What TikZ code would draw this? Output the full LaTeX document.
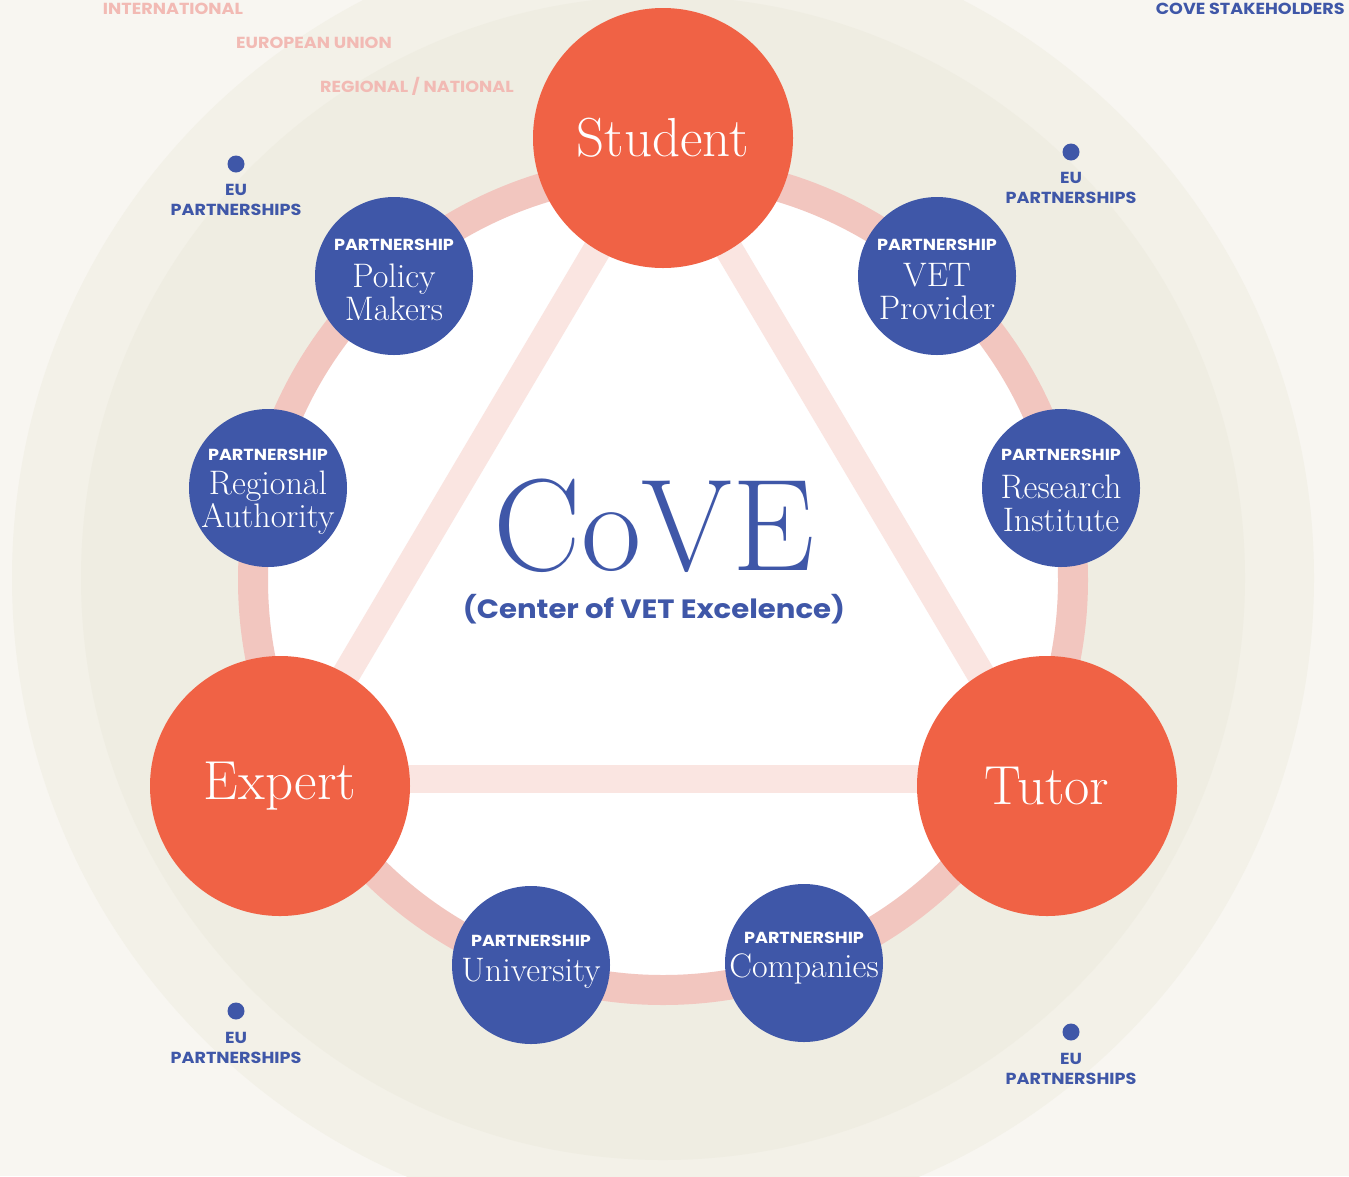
\documentclass[tikz,border=0pt]{standalone}
\usepackage{fontspec}
\newfontfamily\popfont{Poppins}[FakeStretch=1.1]
\definecolor{bgc}{HTML}{F8F6F1}
\definecolor{circA}{HTML}{F3F1E8}
\definecolor{circB}{HTML}{EFEDE2}
\definecolor{ringc}{HTML}{F2C6BF}
\definecolor{tric}{HTML}{FAE5E1}
\definecolor{orng}{HTML}{F06245}
\definecolor{blu}{HTML}{3F57A8}
\definecolor{pinktxt}{HTML}{F2BAB4}
\tikzset{
  rolecircle/.style={circle, fill=orng, inner sep=0pt, minimum size=260pt, text=white, font=\fontsize{55}{57}\selectfont},
  partcircle/.style={circle, fill=blu, inner sep=0pt, minimum size=158pt},
  plabel/.style={text=white, inner sep=0pt, font=\popfont\bfseries\fontsize{16}{18}\selectfont},
  pname/.style={text=white, inner sep=0pt, align=center, font=\fontsize{34}{33}\selectfont},
  eudot/.style={circle, fill=blu, inner sep=0pt, minimum size=17pt},
  eutext/.style={text=blu, inner sep=0pt, align=center, font=\popfont\bfseries\fontsize{16}{20}\selectfont},
  leveltext/.style={text=pinktxt, inner sep=0pt, font=\popfont\bfseries\fontsize{16}{18}\selectfont},
  band/.style={draw=tric, line width=28pt},
}
\begin{document}
\begin{tikzpicture}[x=1pt,y=-1pt]
\useasboundingbox (0,0) rectangle (1349,1176);
\clip (0,0) rectangle (1349,1176);
\fill[bgc] (0,0) rectangle (1349,1176);
\fill[circA] (663,578) circle[radius=651pt];
\fill[circB] (663,578) circle[radius=582pt];
% level labels
\node[leveltext, anchor=base] (intl) at (173,14) {INTERNATIONAL};
\node[leveltext, anchor=base] (eul) at (314,48) {EUROPEAN UNION};
\node[leveltext, anchor=base] (regl) at (417,92) {REGIONAL / NATIONAL};
\node[leveltext, text=blu, anchor=base east] (stake) at (1345,14) {COVE STAKEHOLDERS};
% inner disc and ring
\fill[white] (663,580) circle[radius=396pt];
\draw[ringc, line width=30pt] (663,580) circle[radius=410pt];
% triangle
\coordinate (S) at (663,138);
\coordinate (E) at (280,786);
\coordinate (T) at (1047,786);
\draw[band] (S) -- (E);
\draw[band] (S) -- (T);
\draw[band] ([yshift=7pt]E.center) -- ([yshift=7pt]T.center);
% role circles
\node[rolecircle] (student) at (S) {Student};
\node[rolecircle] (expert) at (E) {Expert};
\node[rolecircle] (tutor) at (T) {Tutor};
% partnership circles
\node[partcircle] (pm) at (394,276) {};
\node[plabel] (pmL) at (394,245) {PARTNERSHIP};
\node[pname] (pmN) at (394,292) {Policy\\Makers};
\node[partcircle] (vet) at (937,276) {};
\node[plabel] (vetL) at (937,245) {PARTNERSHIP};
\node[pname] (vetN) at (937,292) {VET\\Provider};
\node[partcircle] (ra) at (268,488) {};
\node[plabel] (raL) at (268,455) {PARTNERSHIP};
\node[pname] (raN) at (268,503) {Regional\\Authority};
\node[partcircle] (ri) at (1061,488) {};
\node[plabel] (riL) at (1061,455) {PARTNERSHIP};
\node[pname] (riN) at (1061,503) {Research\\Institute};
\node[partcircle] (uni) at (531,965) {};
\node[plabel] (uniL) at (531,941) {PARTNERSHIP};
\node[pname] (uniN) at (531,973) {University};
\node[partcircle] (comp) at (804,963) {};
\node[plabel] (compL) at (804,938) {PARTNERSHIP};
\node[pname] (compN) at (804,969) {Companies};
% centre
\node[text=blu, inner sep=0pt, anchor=base, font=\fontsize{131}{131}\selectfont] (cove) at (654,570) {CoVE};
\node[text=blu, inner sep=0pt, font=\popfont\bfseries\fontsize{26.5}{28}\selectfont] (covesub) at (654,609) {(Center of VET Excelence)};
% EU partnerships
\node[eudot] (d1) at (236,164) {};
\node[eutext] (t1) at (236,200) {EU\\PARTNERSHIPS};
\node[eudot] (d2) at (1071,152) {};
\node[eutext] (t2) at (1071,188) {EU\\PARTNERSHIPS};
\node[eudot] (d3) at (236,1011) {};
\node[eutext] (t3) at (236,1048) {EU\\PARTNERSHIPS};
\node[eudot] (d4) at (1071,1032) {};
\node[eutext] (t4) at (1071,1069) {EU\\PARTNERSHIPS};
\end{tikzpicture}
\end{document}
